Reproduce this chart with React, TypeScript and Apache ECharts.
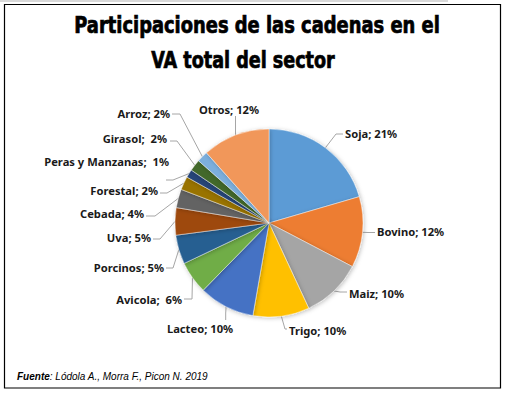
import React, { useEffect, useRef } from "react";
import * as echarts from "echarts";

const categories = ["Soja", "Bovino", "Maiz", "Trigo", "Lacteo", "Avicola", "Porcinos", "Uva", "Cebada", "Forestal", "Peras y Manzanas", "Girasol", "Arroz", "Otros"];
const shares = [20.5, 12.2, 10.4, 9.7, 9.6, 5.6, 5.0, 4.7, 3.2, 2.3, 1.4, 2.0, 1.9, 11.6];
const labelPct = [21, 12, 10, 10, 10, 6, 5, 5, 4, 2, 1, 2, 2, 12];
const wideSep = ["Avicola", "Peras y Manzanas", "Girasol"];
const titleLines = ["Participaciones de las cadenas en el", "VA total del sector"];
const sourceLabel = "Fuente";
const sourceText = ": Lódola A., Morra F., Picon N. 2019";

const colors = ["#5B9BD5", "#ED7D31", "#A5A5A5", "#FFC000", "#4472C4", "#70AD47", "#255E91", "#9E480E", "#636363", "#997300", "#264478", "#43682B", "#7CAFDD", "#F1975A"];

// label layout: [textX, textY, align, elbowX, elbowY, endX, endY]
const labelPos: [number, number, string, number, number, number, number][] = [
  [345, 133, "left", 336, 134, 343, 134],
  [377, 231, "left", 368, 232.5, 375, 232.5],
  [349, 293, "left", 340, 292, 347, 292],
  [289, 330, "left", 285, 329, 287, 329],
  [200, 328, "center", 225.7, 313, 225.7, 320],
  [182, 299, "right", 192, 299, 184, 299],
  [164, 267, "right", 173, 268, 166, 268],
  [151, 237, "right", 160, 239, 153, 239],
  [144, 213, "right", 155, 216, 146, 216],
  [158, 190, "right", 167, 193, 160, 193],
  [169, 161, "right", 173, 180, 166, 180],
  [167, 138, "right", 177, 141, 170, 141],
  [170, 113, "right", 180, 114, 172, 114],
  [229, 109, "center", 235.5, 122, 235.5, 116],
];

const titleFont = "bold 23px 'DejaVu Sans Condensed', 'DejaVu Sans'";

export default function App() {
  const ref = useRef<HTMLDivElement>(null);
  useEffect(() => {
    if (!ref.current) return;
    const chart = echarts.init(ref.current, null, { renderer: "svg" });
    const data = categories.map((name, i) => ({
      name,
      value: shares[i],
      itemStyle: { color: colors[i] },
    }));
    chart.setOption({
      animation: false,
      backgroundColor: "#ffffff",
      graphic: [
        { type: "rect", shape: { x: 0, y: 0, width: 448, height: 2 }, style: { fill: "#d9d9d9" }, silent: true },
        { type: "rect", shape: { x: 4.5, y: 4.5, width: 496, height: 383.5 }, style: { fill: "none", stroke: "#000000", lineWidth: 1.2 }, silent: true },
        {
          type: "text", x: 257, y: 25, scaleX: 0.865,
          style: { text: titleLines[0], font: titleFont, fill: "#000", stroke: "#000", lineWidth: 0.7, textAlign: "center", textVerticalAlign: "middle" },
        },
        {
          type: "text", x: 243, y: 60, scaleX: 0.85,
          style: { text: titleLines[1], font: titleFont, fill: "#000", stroke: "#000", lineWidth: 0.7, textAlign: "center", textVerticalAlign: "middle" },
        },
        {
          type: "text", x: 17, y: 376,
          style: {
            text: `{b|${sourceLabel}}{i|${sourceText}}`,
            textVerticalAlign: "middle",
            rich: {
              b: { font: "italic bold 10px 'Liberation Sans'", fill: "#000" },
              i: { font: "italic 10px 'Liberation Sans'", fill: "#000" },
            },
          },
        },
      ],
      series: [
        {
          type: "pie",
          center: [269, 223],
          radius: 94,
          startAngle: 90,
          clockwise: true,
          avoidLabelOverlap: false,
          data,
          itemStyle: {
            borderColor: "rgba(255,255,255,0.7)",
            borderWidth: 0.6,
            shadowBlur: 4,
            shadowOffsetX: 1,
            shadowOffsetY: 1,
            shadowColor: "rgba(0,0,0,0.25)",
          },
          label: {
            show: true,
            position: "outside",
            formatter: (p: any) => `${p.name};${wideSep.includes(p.name) ? "  " : " "}${labelPct[p.dataIndex]}%`,
            fontFamily: "'Noto Sans', sans-serif",
            fontWeight: "bold",
            fontSize: 11.2,
            color: "#1a1a1a",
          },
          labelLine: {
            show: true,
            smooth: false,
            length: 10,
            length2: 8,
            lineStyle: { color: "#A6A6A6", width: 1 },
          },
          labelLayout: (params: any) => {
            const lp = labelPos[params.dataIndex];
            const start = params.labelLinePoints ? params.labelLinePoints[0] : [lp[3], lp[4]];
            return {
              x: lp[0],
              y: lp[1],
              align: lp[2],
              verticalAlign: "middle",
              labelLinePoints: [start, [lp[3], lp[4]], [lp[5], lp[6]]],
            };
          },
        },
      ],
    });
    return () => chart.dispose();
  }, []);
  return (
    <div
      ref={ref}
      style={{ position: "absolute", left: 0, top: 0, width: 508, height: 394, background: "#fff" }}
    />
  );
}
